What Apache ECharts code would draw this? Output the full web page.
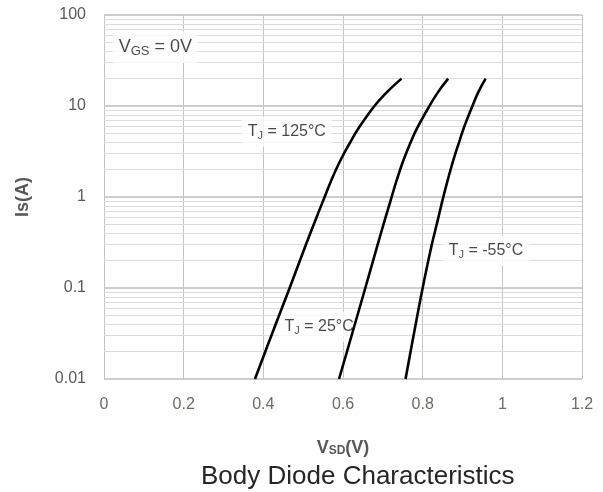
<!DOCTYPE html>
<html>
<head>
<meta charset="utf-8">
<script src="https://cdn.jsdelivr.net/npm/echarts@6/dist/echarts.min.js"></script>
<style>
html,body{margin:0;padding:0;background:#fff;}
#main{width:603px;height:492px;}
</style>
</head>
<body>
<div id="main"></div>
<script>
// Data (Is in A, VSD in V)
var currents = [0.01, 0.035, 0.1, 0.3, 0.56, 0.93, 1.54, 2.55, 4.2, 5.7, 10, 14.3, 20];
var v125 = [0.379, 0.426, 0.466, 0.507, 0.531, 0.551, 0.571, 0.594, 0.621, 0.639, 0.679, 0.711, 0.747];
var v25  = [0.590, 0.626, 0.656, 0.687, 0.705, 0.720, 0.735, 0.752, 0.772, 0.786, 0.817, 0.839, 0.864];
var vm55 = [0.757, 0.780, 0.800, 0.823, 0.838, 0.850, 0.863, 0.877, 0.893, 0.903, 0.925, 0.940, 0.958];

var xTickLabels = ['0', '0.2', '0.4', '0.6', '0.8', '1', '1.2'];
var yTickLabels = ['0.01', '0.1', '1', '10', '100'];
var decades = [0.01, 0.1, 1, 10];
var minorSteps = [2, 3, 4, 5, 6, 7, 8, 9];

// annotation anchors (data coords): [V, I, text key]
var annotations = [
  [0.129, 44.5, 'vgs'],
  [0.459, 5.2, 't125'],
  [0.540, 0.0376, 't25'],
  [0.959, 0.257, 'tm55']
];
var annotationText = {
  vgs: '{a|V}{s|GS}{a| = 0V}',
  t125: '{b|T}{t|J}{b| = 125°C}',
  t25: '{b|T}{t|J}{b| = 25°C}',
  tm55: '{b|T}{t|J}{b| = -55°C}'
};

function pairs(vs) {
  return vs.map(function (v, i) { return [v, currents[i]]; });
}

var minorLines = [];
decades.forEach(function (d) {
  minorSteps.forEach(function (m) { minorLines.push({ yAxis: +(d * m).toPrecision(3) }); });
});

var FONT = '"Liberation Sans", Arial, sans-serif';

var chart = echarts.init(document.getElementById('main'), null, { renderer: 'canvas' });
function curve(name, vs) {
  return {
    name: name, type: 'line', data: pairs(vs), smooth: 0.4,
    showSymbol: false, symbol: 'none', z: 6,
    lineStyle: { color: '#000', width: 2.6 }, itemStyle: { color: '#000' }
  };
}

chart.setOption({
  animation: false,
  backgroundColor: '#fff',
  title: {
    text: 'Body Diode Characteristics',
    left: 196, top: 459,
    textStyle: { fontFamily: FONT, fontSize: 26, fontWeight: 'normal', color: '#262626' }
  },
  grid: { left: 104, right: 21, top: 15, bottom: 113, containLabel: false },
  xAxis: {
    type: 'value', min: 0, max: 1.2, interval: 0.2,
    axisLine: { show: false },
    axisTick: { show: false },
    splitLine: { show: true, lineStyle: { color: '#c4c4c4', width: 1 } },
    axisLabel: {
      margin: 18, color: '#6f6a64', fontSize: 16, fontFamily: FONT,
      formatter: function (v) { return xTickLabels[Math.round(v / 0.2)]; }
    },
    name: '{v|V}{s|SD}{v|(V)}',
    nameLocation: 'middle', nameGap: 56,
    nameTextStyle: {
      rich: {
        v: { fontFamily: FONT, fontSize: 18, fontWeight: 'bold', color: '#595959', lineHeight: 22, verticalAlign: 'bottom' },
        s: { fontFamily: FONT, fontSize: 12, fontWeight: 'bold', color: '#595959', lineHeight: 17, verticalAlign: 'bottom' }
      }
    }
  },
  yAxis: {
    type: 'log', logBase: 10, min: 0.01, max: 100,
    axisLine: { show: false },
    axisTick: { show: false },
    splitLine: { show: true, lineStyle: { color: '#bdbdbd', width: 1.5 } },
    axisLabel: {
      margin: 18, color: '#595959', fontSize: 16, fontFamily: FONT,
      formatter: function (v) {
        var i = Math.round(Math.log10(v)) + 2;
        return yTickLabels[i];
      }
    },
    name: 'Is(A)', nameLocation: 'middle', nameGap: 72, nameRotate: 90,
    nameTextStyle: { fontFamily: FONT, fontSize: 18, fontWeight: 'bold', color: '#595959' }
  },
  series: [
    {
      name: 'minor', type: 'line', data: [], z: 1, silent: true,
      showSymbol: false,
      markLine: {
        z: 1, silent: true, symbol: 'none', animation: false,
        label: { show: false },
        lineStyle: { color: '#dcdcdc', type: 'solid', width: 1 },
        data: minorLines
      }
    },
    {
      name: 'labels', type: 'scatter', z: 3, silent: true,
      symbolSize: 0,
      data: annotations.map(function (a) { return { value: [a[0], a[1]], key: a[2] }; }),
      label: {
        show: true, position: 'inside',
        backgroundColor: '#fff', padding: [5, 6, 5, 6],
        formatter: function (p) { return annotationText[p.data.key]; },
        rich: {
          a: { fontFamily: FONT, fontSize: 18, color: '#1a1a1a', lineHeight: 22, verticalAlign: 'middle' },
          s: { fontFamily: FONT, fontSize: 13, color: '#1a1a1a', lineHeight: 14, verticalAlign: 'bottom' },
          b: { fontFamily: FONT, fontSize: 16, color: '#1a1a1a', lineHeight: 20, verticalAlign: 'middle' },
          t: { fontFamily: FONT, fontSize: 11, color: '#1a1a1a', lineHeight: 12, verticalAlign: 'bottom' }
        }
      }
    },
    curve('TJ=125', v125),
    curve('TJ=25', v25),
    curve('TJ=-55', vm55)
  ]
});
</script>
</body>
</html>
